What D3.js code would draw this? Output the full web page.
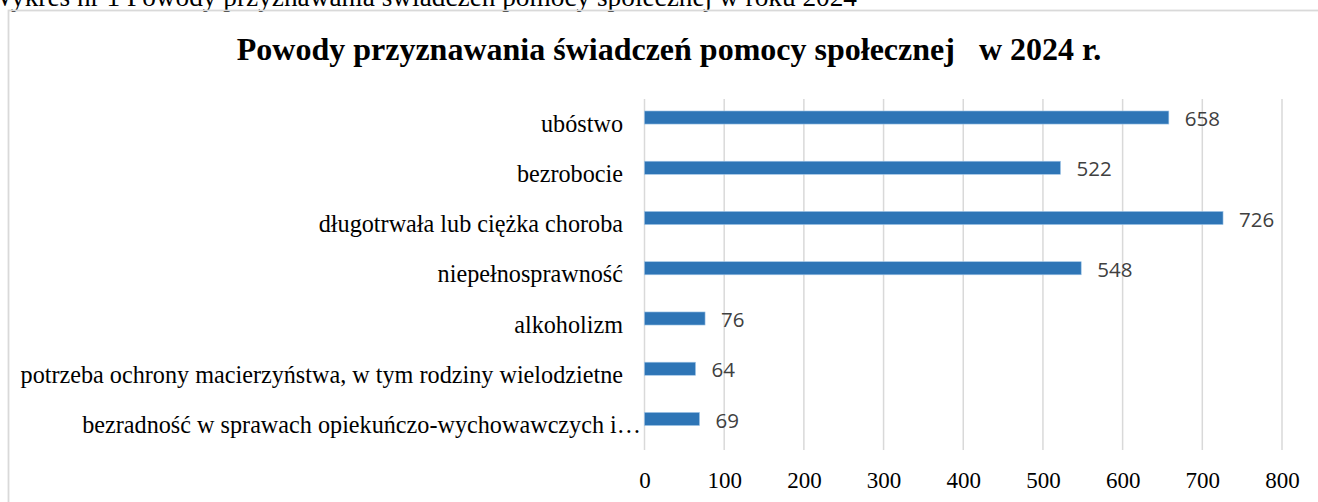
<!DOCTYPE html>
<html>
<head>
<meta charset="utf-8">
<script src="https://cdn.jsdelivr.net/npm/d3@7"></script>
<style>
  html, body { margin: 0; padding: 0; background: #fff; overflow: hidden; }
  svg { display: block; }
</style>
</head>
<body>
<svg></svg>
<script>
// Data
const categories = [
  "ubóstwo",
  "bezrobocie",
  "długotrwała lub ciężka choroba",
  "niepełnosprawność",
  "alkoholizm",
  "potrzeba ochrony macierzyństwa, w tym rodziny wielodzietne",
  "bezradność w sprawach opiekuńczo-wychowawczych i…"
];
const values = [658, 522, 726, 548, 76, 64, 69];
const xTicks = [0, 100, 200, 300, 400, 500, 600, 700, 800];
const chartTitle = "Powody przyznawania świadczeń pomocy społecznej   w 2024 r.";
const captionText = "Wykres nr 1 Powody przyznawania świadczeń pomocy społecznej w roku 2024";

const data = categories.map((c, i) => ({ category: c, value: values[i] }));

// Set up dimensions
const width = 1318, height = 502;
const plot = { left: 644.5, right: 1282, top: 99, bottom: 450 };
const serif = "'Liberation Serif', 'Times New Roman', serif";

const svg = d3.select("svg")
    .attr("width", width)
    .attr("height", height);

// Caption above the chart box (cut off by the top edge)
svg.append("text")
    .attr("x", 857)
    .attr("y", 5.5)
    .attr("text-anchor", "end")
    .style("font-family", serif)
    .style("font-size", "27.3px")
    .attr("fill", "#000")
    .text(captionText);

// Chart box
svg.append("rect")
    .attr("x", 8.5)
    .attr("y", 10.5)
    .attr("width", width)
    .attr("height", height)
    .attr("fill", "none")
    .attr("stroke", "#d9d9d9")
    .attr("stroke-width", 1.8);

// Title
svg.append("text")
    .attr("x", 669)
    .attr("y", 60)
    .attr("text-anchor", "middle")
    .style("font-family", serif)
    .style("font-weight", "bold")
    .style("font-size", "32px")
    .style("white-space", "pre")
    .attr("fill", "#000")
    .text(chartTitle);

// Scales
const xScale = d3.scaleLinear()
    .domain([0, 800])
    .range([plot.left, plot.right]);

const yScale = d3.scaleBand()
    .domain(categories)
    .range([92.4, 444.1])
    .paddingInner(0.74)
    .paddingOuter(0.37);

// Gridlines
svg.append("g")
    .selectAll("line")
    .data(xTicks)
    .join("line")
    .attr("x1", d => xScale(d))
    .attr("x2", d => xScale(d))
    .attr("y1", plot.top)
    .attr("y2", plot.bottom)
    .attr("stroke", "#d9d9d9")
    .attr("stroke-width", 1.5);

// X axis (tick labels only)
const xAxis = svg.append("g")
    .attr("transform", `translate(0,${plot.bottom})`)
    .call(d3.axisBottom(xScale).tickValues(xTicks).tickSize(0).tickPadding(0));
xAxis.select(".domain").remove();
xAxis.selectAll("text")
    .attr("y", 38)
    .attr("dy", 0)
    .style("font-family", serif)
    .style("font-size", "23px")
    .attr("fill", "#000");

// Y axis (category labels)
const yAxis = svg.append("g")
    .attr("transform", `translate(623,0)`)
    .call(d3.axisLeft(yScale).tickSize(0).tickPadding(0));
yAxis.select(".domain").remove();
yAxis.selectAll("text")
    .attr("dx", d => d.endsWith("…") ? 18 : 0)
    .attr("dy", "0.58em")
    .style("font-family", serif)
    .style("font-size", "24.2px")
    .attr("fill", "#000");

// Bars
svg.append("g")
    .selectAll("rect")
    .data(data)
    .join("rect")
    .attr("x", xScale(0))
    .attr("y", d => yScale(d.category))
    .attr("width", d => xScale(d.value) - xScale(0))
    .attr("height", yScale.bandwidth())
    .attr("fill", "#2e75b6")
    .attr("stroke", "#9dc3e6")
    .attr("stroke-width", 0.6);

// Value labels
svg.append("g")
    .selectAll("text")
    .data(data)
    .join("text")
    .attr("x", d => xScale(d.value) + 16)
    .attr("y", d => yScale(d.category) + yScale.bandwidth() / 2 + 1.5)
    .attr("dy", "0.35em")
    .style("font-family", "'Open Sans', sans-serif")
    .style("font-size", "20.5px")
    .attr("fill", "#404040")
    .text(d => d.value);
</script>
</body>
</html>
